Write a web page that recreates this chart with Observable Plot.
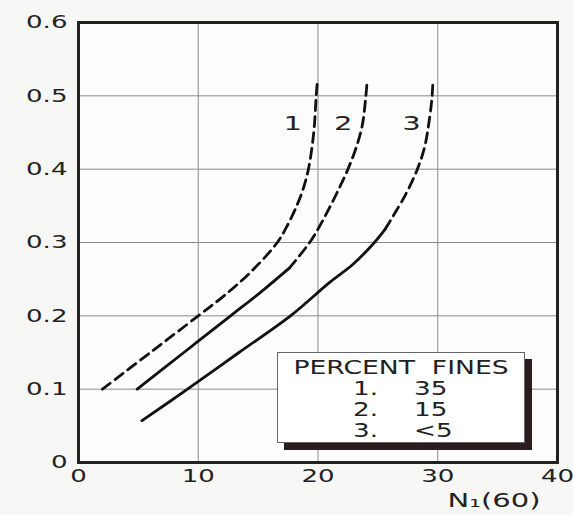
<!DOCTYPE html>
<html>
<head>
<meta charset="utf-8">
<script src="https://cdn.jsdelivr.net/npm/d3@7"></script>
<script src="https://cdn.jsdelivr.net/npm/@observablehq/plot@0.6"></script>
<style>
  body { margin: 0; background: #f7f7f6; font-family: "DejaVu Sans", sans-serif; }
  #wrap { position: relative; width: 573px; height: 515px; }
  #legend {
    position: absolute; left: 277px; top: 352px; width: 248px; height: 91px;
    box-sizing: border-box; border: 1px solid #666; background: #fff;
    box-shadow: 7px 7px 0 #2b1d1f; color: #222; font-size: 19px; line-height: 21px;
  }
  #legend .hd { position: absolute; left: 0; right: 0; top: 4px; text-align: center; white-space: pre; transform: scaleX(1.4); transform-origin: 50% 50%; }
  #legend .cell { position: absolute; white-space: pre; transform: scaleX(1.38); transform-origin: 0 50%; }
</style>
</head>
<body>
<div id="wrap"></div>
<script>
// Curve 1 (35% fines) – dashed throughout
const c1X = [2, 6, 10, 12.2, 14.4, 16.6, 17.5, 18.3, 18.8, 19.2, 19.5, 19.7, 19.85, 19.95];
const c1Y = [0.1, 0.15, 0.2, 0.228, 0.26, 0.3, 0.325, 0.353, 0.375, 0.4, 0.43, 0.46, 0.5, 0.52];
// Curve 2 (15% fines) – solid then dashed
const c2SolidX = [4.9, 8.8, 12.7, 15.2, 17.6];
const c2SolidY = [0.1, 0.15, 0.2, 0.232, 0.265];
const c2DashX = [17.6, 19.3, 20.4, 21.8, 22.5, 23.2, 23.7, 24.0, 24.1];
const c2DashY = [0.265, 0.3, 0.33, 0.375, 0.4, 0.43, 0.46, 0.5, 0.52];
// Curve 3 (<5% fines) – solid then dashed
const c3SolidX = [5.3, 9.1, 13.4, 17.7, 21.0, 22.9, 24.6, 25.6];
const c3SolidY = [0.057, 0.1, 0.15, 0.2, 0.246, 0.27, 0.298, 0.318];
const c3DashX = [25.6, 26.2, 27.3, 28.3, 28.9, 29.25, 29.5, 29.6];
const c3DashY = [0.318, 0.334, 0.365, 0.4, 0.43, 0.462, 0.494, 0.52];

const curveLabels = ["1", "2", "3"];
const curveLabelX = [17.9, 22.1, 27.8];
const curveLabelY = [0.462, 0.462, 0.462];

const xTicks = [0, 10, 20, 30, 40];
const yTicks = [0, 0.1, 0.2, 0.3, 0.4, 0.5, 0.6];
const xLabel = "N\u2081(60)";

const legendTitle = "PERCENT  FINES";
const legendNums = ["1.", "2.", "3."];
const legendFines = ["35", "15", "<5"];

const pts = (xs, ys) => xs.map((x, i) => ({x, y: ys[i]}));
const labels = curveLabels.map((t, i) => ({t, x: curveLabelX[i], y: curveLabelY[i]}));

const lineStyle = {x: "x", y: "y", stroke: "#111", strokeWidth: 2.8, curve: "catmull-rom"};
const dash = "10,6";

const chart = Plot.plot({
  width: 573,
  height: 515,
  marginLeft: 78,
  marginRight: 16,
  marginTop: 22,
  marginBottom: 53,
  style: {fontFamily: "DejaVu Sans, sans-serif", fontSize: "18px", color: "#222", background: "transparent"},
  x: {domain: [0, 40], ticks: xTicks, tickSize: 0, tickPadding: 7, tickFormat: d => String(d), label: null},
  y: {domain: [0, 0.6], ticks: yTicks, tickSize: 0, tickPadding: 11, tickFormat: d => String(d), label: null},
  marks: [
    Plot.frame({fill: "#fdfdfd", stroke: null}),
    Plot.gridX(xTicks, {stroke: "#8a8a8a", strokeOpacity: 1, strokeWidth: 1}),
    Plot.gridY(yTicks, {stroke: "#8a8a8a", strokeOpacity: 1, strokeWidth: 1}),
    Plot.line(pts(c1X, c1Y), {...lineStyle, strokeDasharray: dash}),
    Plot.line(pts(c2SolidX, c2SolidY), lineStyle),
    Plot.line(pts(c2DashX, c2DashY), {...lineStyle, strokeDasharray: dash}),
    Plot.line(pts(c3SolidX, c3SolidY), lineStyle),
    Plot.line(pts(c3DashX, c3DashY), {...lineStyle, strokeDasharray: dash}),
    Plot.text(labels, {x: "x", y: "y", text: "t", fontSize: 20, fill: "#222"}),
    Plot.frame({stroke: "#222", strokeWidth: 3}),
    Plot.text([xLabel], {frameAnchor: "bottom-right", dy: 44, dx: -17, textAnchor: "end", fontSize: 20, fill: "#222"})
  ]
});

const wrap = document.getElementById("wrap");
wrap.appendChild(chart);

// emulate the wide (extended) lettering of the original by stretching glyphs
const S = 1.45;
chart.querySelectorAll("text").forEach(t => {
  const len = t.getComputedTextLength();
  if (len > 0) {
    t.setAttribute("textLength", (len * S).toFixed(1));
    t.setAttribute("lengthAdjust", "spacingAndGlyphs");
  }
});

const leg = document.createElement("div");
leg.id = "legend";
const hd = document.createElement("div");
hd.className = "hd";
hd.textContent = legendTitle;
leg.appendChild(hd);
legendNums.forEach((n, i) => {
  const top = 25 + i * 21;
  const a = document.createElement("div");
  a.className = "cell";
  a.style.left = "75px";
  a.style.top = top + "px";
  a.textContent = n;
  const b = document.createElement("div");
  b.className = "cell";
  b.style.left = "136px";
  b.style.top = top + "px";
  b.textContent = legendFines[i];
  leg.appendChild(a);
  leg.appendChild(b);
});
wrap.appendChild(leg);
</script>
</body>
</html>
